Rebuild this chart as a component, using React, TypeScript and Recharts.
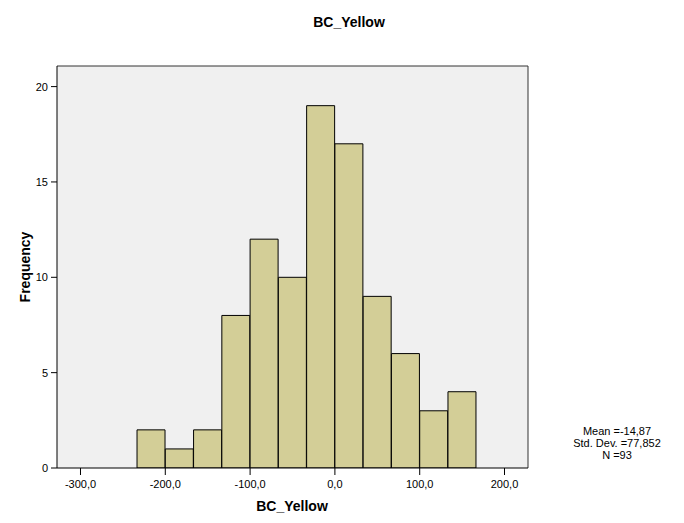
import { BarChart, Bar, XAxis, YAxis, CartesianGrid, ReferenceLine } from "recharts";

// bin midpoints (bin width 100/3)
const binMids = [-216.67, -183.33, -150, -116.67, -83.33, -50, -16.67, 16.67, 50, 83.33, 116.67, 150];
const counts = [2, 1, 2, 8, 12, 10, 19, 17, 9, 6, 3, 4];
const xTicks = [-300, -200, -100, 0, 100, 200];
const yTicks = [0, 5, 10, 15, 20];
const xDomain = [-327.7, 227.7];
const yDomain = [0, 21.08];
const statLines = ["Mean =-14,87", "Std. Dev. =77,852", "N =93"];

const data = binMids.map((mid, i) => ({ mid, count: counts[i] }));

const font = "'Liberation Sans', Arial, sans-serif";
const tickStyle = { fontSize: 11, fill: "#000", fontFamily: font };

export default function App() {
  return (
    <div style={{ position: "absolute", left: 0, top: 0, width: 684, height: 523, background: "#fff", fontFamily: font }}>
      <BarChart
        width={684}
        height={523}
        data={data}
        margin={{ top: 66, right: 156, left: 17, bottom: 25 }}
        barCategoryGap={0}
        barGap={0}
      >
        <CartesianGrid fill="#f0f0f0" horizontal={false} vertical={false} />
        <XAxis
          dataKey="mid"
          type="number"
          domain={xDomain}
          allowDataOverflow
          ticks={xTicks}
          tickFormatter={(v) => Number(v).toFixed(1).replace(".", ",")}
          tick={tickStyle}
          tickSize={7}
          tickMargin={5}
          height={30}
          stroke="#000"
        />
        <YAxis
          domain={yDomain}
          allowDataOverflow
          ticks={yTicks}
          tick={tickStyle}
          tickSize={6}
          tickMargin={3}
          width={40}
          stroke="#000"
        />
        <ReferenceLine y={yDomain[1]} stroke="#333" ifOverflow="visible" />
        <ReferenceLine x={xDomain[1]} stroke="#333" ifOverflow="visible" />
        <Bar dataKey="count" fill="#d3ce97" stroke="#000" strokeWidth={1} isAnimationActive={false} />
      </BarChart>
      <div style={{ position: "absolute", left: 249, width: 200, top: 14, textAlign: "center", fontWeight: "bold", fontSize: 14 }}>
        BC_Yellow
      </div>
      <div style={{ position: "absolute", left: 192, width: 200, top: 498, textAlign: "center", fontWeight: "bold", fontSize: 14 }}>
        BC_Yellow
      </div>
      <div
        style={{
          position: "absolute",
          left: 25,
          top: 267,
          transform: "translate(-50%, -50%) rotate(-90deg)",
          fontWeight: "bold",
          fontSize: 14,
          whiteSpace: "nowrap",
        }}
      >
        Frequency
      </div>
      <div style={{ position: "absolute", left: 557, width: 120, top: 425, textAlign: "center", fontSize: 11, lineHeight: "12px" }}>
        {statLines.map((s) => (
          <div key={s}>{s}</div>
        ))}
      </div>
    </div>
  );
}
